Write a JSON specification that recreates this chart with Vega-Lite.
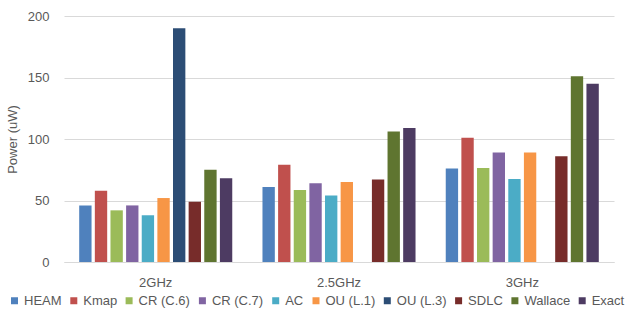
{
  "$schema": "https://vega.github.io/schema/vega-lite/v6.json",
  "width": 550,
  "height": 246,
  "autosize": "none",
  "padding": {"left": 64, "top": 16, "right": 14, "bottom": 50},
  "background": "white",
  "config": {
    "font": "Liberation Sans",
    "view": {"stroke": null},
    "axis": {"labelColor": "#595959", "titleColor": "#595959", "labelFont": "Liberation Sans", "titleFont": "Liberation Sans"},
    "legend": {"labelColor": "#595959", "labelFont": "Liberation Sans"}
  },
  "data": {
    "values": [
      {"freq": "2GHz", "method": "HEAM", "power": 46},
      {"freq": "2GHz", "method": "Kmap", "power": 58},
      {"freq": "2GHz", "method": "CR (C.6)", "power": 42},
      {"freq": "2GHz", "method": "CR (C.7)", "power": 46},
      {"freq": "2GHz", "method": "AC", "power": 38},
      {"freq": "2GHz", "method": "OU (L.1)", "power": 52},
      {"freq": "2GHz", "method": "OU (L.3)", "power": 190},
      {"freq": "2GHz", "method": "SDLC", "power": 49},
      {"freq": "2GHz", "method": "Wallace", "power": 75},
      {"freq": "2GHz", "method": "Exact", "power": 68},
      {"freq": "2.5GHz", "method": "HEAM", "power": 61},
      {"freq": "2.5GHz", "method": "Kmap", "power": 79},
      {"freq": "2.5GHz", "method": "CR (C.6)", "power": 58.5},
      {"freq": "2.5GHz", "method": "CR (C.7)", "power": 64},
      {"freq": "2.5GHz", "method": "AC", "power": 54},
      {"freq": "2.5GHz", "method": "OU (L.1)", "power": 65},
      {"freq": "2.5GHz", "method": "SDLC", "power": 67},
      {"freq": "2.5GHz", "method": "Wallace", "power": 106},
      {"freq": "2.5GHz", "method": "Exact", "power": 109},
      {"freq": "3GHz", "method": "HEAM", "power": 76},
      {"freq": "3GHz", "method": "Kmap", "power": 101},
      {"freq": "3GHz", "method": "CR (C.6)", "power": 76.5},
      {"freq": "3GHz", "method": "CR (C.7)", "power": 89},
      {"freq": "3GHz", "method": "AC", "power": 67.5},
      {"freq": "3GHz", "method": "OU (L.1)", "power": 89},
      {"freq": "3GHz", "method": "SDLC", "power": 86},
      {"freq": "3GHz", "method": "Wallace", "power": 151},
      {"freq": "3GHz", "method": "Exact", "power": 145}
    ]
  },
  "mark": {"type": "bar"},
  "encoding": {
    "x": {
      "field": "freq", "type": "nominal", "sort": ["2GHz", "2.5GHz", "3GHz"],
      "scale": {"paddingInner": 0.147, "paddingOuter": 0.074},
      "axis": {"title": null, "labelAngle": 0, "labelFontSize": 13, "labelPadding": 14, "ticks": false, "domainColor": "#D9D9D9", "domainWidth": 1}
    },
    "xOffset": {
      "field": "method", "type": "nominal",
      "sort": ["HEAM", "Kmap", "CR (C.6)", "CR (C.7)", "AC", "OU (L.1)", "OU (L.3)", "SDLC", "Wallace", "Exact"],
      "scale": {"domain": ["HEAM", "Kmap", "CR (C.6)", "CR (C.7)", "AC", "OU (L.1)", "OU (L.3)", "SDLC", "Wallace", "Exact"], "paddingInner": 0.21, "paddingOuter": 0.105}
    },
    "y": {
      "field": "power", "type": "quantitative",
      "scale": {"domain": [0, 200]},
      "axis": {"title": "Power (uW)", "titleFontSize": 13, "titleFontWeight": "normal", "titlePadding": 8, "labelFontSize": 13, "labelPadding": 15, "ticks": false, "domain": false, "values": [0, 50, 100, 150, 200], "gridColor": "#D9D9D9", "gridWidth": 1}
    },
    "color": {
      "field": "method", "type": "nominal",
      "scale": {
        "domain": ["HEAM", "Kmap", "CR (C.6)", "CR (C.7)", "AC", "OU (L.1)", "OU (L.3)", "SDLC", "Wallace", "Exact"],
        "range": ["#4F81BD", "#C0504D", "#9BBB59", "#8064A2", "#4BACC6", "#F79646", "#2C4D75", "#772C2A", "#5F7530", "#4D3B62"]
      },
      "legend": {
        "title": null, "orient": "none", "legendX": -56, "legendY": 278, "direction": "horizontal", "columns": 10,
        "symbolType": "square", "symbolSize": 49, "symbolStrokeWidth": 0, "labelFontSize": 13, "labelOffset": 3, "columnPadding": 5.3
      }
    }
  }
}
